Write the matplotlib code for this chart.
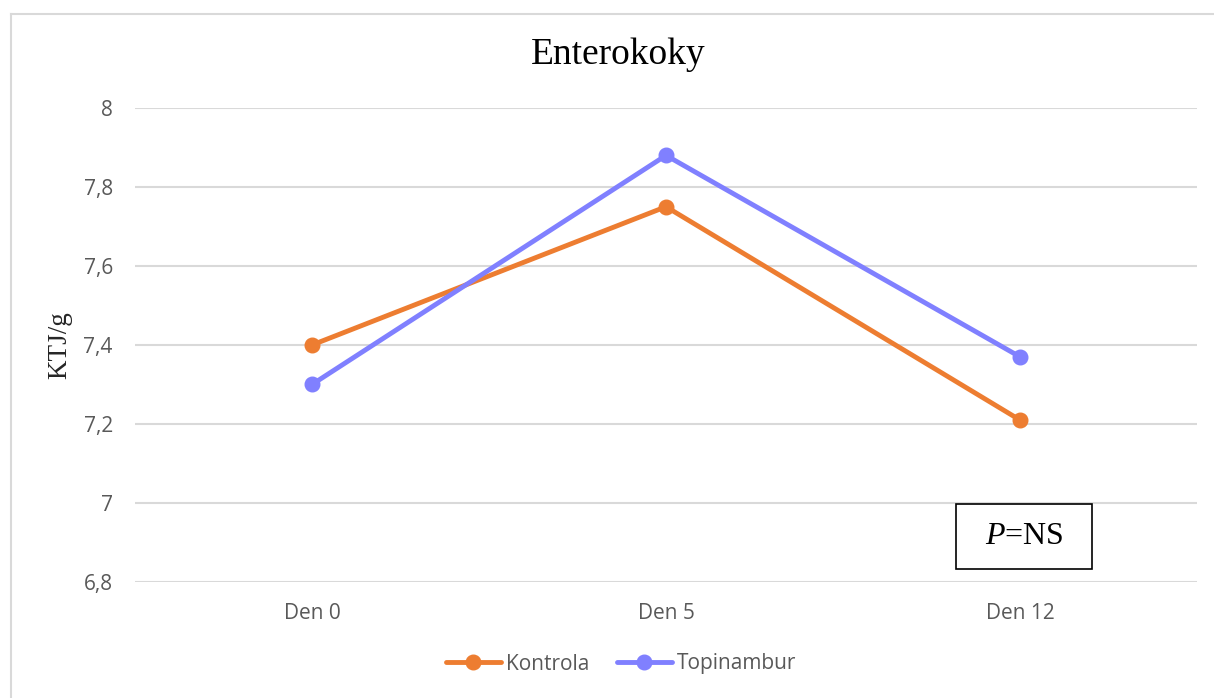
import matplotlib.pyplot as plt
from matplotlib.patches import Rectangle
from matplotlib.lines import Line2D

# data
dny = ['Den 0', 'Den 5', 'Den 12']
kontrola = [7.40, 7.75, 7.21]
topinambur = [7.30, 7.88, 7.37]
y_ticks = [6.8, 7.0, 7.2, 7.4, 7.6, 7.8, 8.0]
y_labels = ['6,8', '7', '7,2', '7,4', '7,6', '7,8', '8']

plt.rcParams['font.family'] = ['Open Sans', 'DejaVu Sans']
plt.rcParams['mathtext.fontset'] = 'custom'
plt.rcParams['mathtext.rm'] = 'Liberation Serif'
plt.rcParams['mathtext.it'] = 'Liberation Serif:italic'

fig = plt.figure(figsize=(12.14, 6.98), dpi=100)
ax = fig.add_axes([0.1112, 0.1662, 0.8748, 0.6791])

grid_col = '#D9D9D9'
text_col = '#595959'

# ramecek grafu (jen horni a leva hrana)
fig.add_artist(Line2D([11/1214, 11/1214], [0, 1 - 14/698], transform=fig.transFigure,
                      color=grid_col, lw=1.5))
fig.add_artist(Line2D([11/1214, 1], [1 - 14/698, 1 - 14/698], transform=fig.transFigure,
                      color=grid_col, lw=1.5))

x = range(len(dny))
ax.plot(x, kontrola, color='#ED7D31', lw=3.5, marker='o', markersize=10.5,
        label='Kontrola', solid_capstyle='round', zorder=3)
ax.plot(x, topinambur, color='#8080FF', lw=3.5, marker='o', markersize=10.5,
        label='Topinambur', solid_capstyle='round', zorder=3)

ax.set_xlim(-0.5, 2.5)
ax.set_ylim(6.8, 8.0)
ax.set_yticks(y_ticks)
ax.set_yticklabels(y_labels)
ax.set_xticks(list(x))
ax.set_xticklabels(dny)
ax.tick_params(length=0, labelsize=15, colors=text_col)
ax.tick_params(axis='y', pad=16)
ax.tick_params(axis='x', pad=15)
ax.grid(axis='y', color=grid_col, lw=1.5)
ax.set_axisbelow(True)
for s in ax.spines.values():
    s.set_visible(False)

fig.text(60/1214, 1 - 345/698, 'KTJ/g', family='Liberation Serif', fontsize=19.5,
         color='#262626', rotation=90, ha='center', va='center')
fig.text(618/1214, 1 - 55/698, 'Enterokoky', family='Liberation Serif', fontsize=27,
         ha='center', va='center', color='black')

# P=NS box
ax.add_patch(Rectangle((0.773, 0.0274), 0.128, 0.1372, transform=ax.transAxes,
                       fill=False, edgecolor='black', lw=1.2, zorder=4))
ax.text(0.837, 0.0960, r'$\it{P}$=NS', transform=ax.transAxes, fontsize=23,
        family='Liberation Serif', ha='center', va='center', zorder=5)

fig.legend(loc='center', bbox_to_anchor=(621/1214, 1 - 664/698), ncol=2, frameon=False,
           fontsize=15, labelcolor=text_col, handlelength=2.64, handletextpad=0.25,
           columnspacing=1.3)

plt.savefig('out.png', dpi=100)
